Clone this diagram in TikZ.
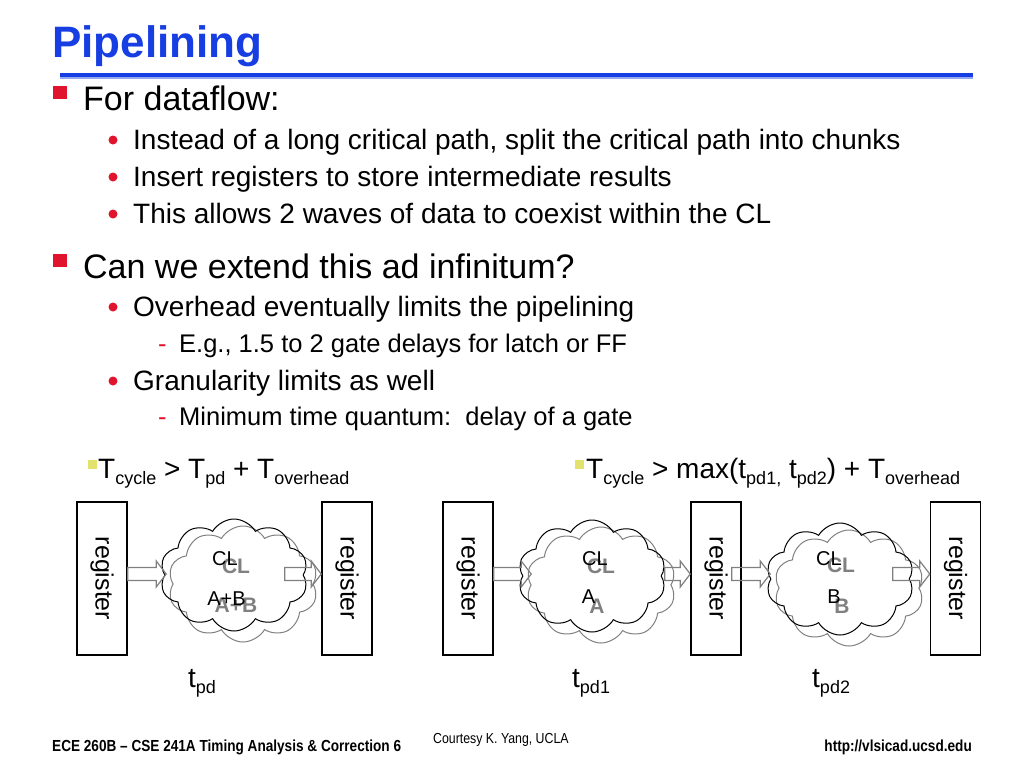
\documentclass[tikz,border=0pt]{standalone}
\usepackage{fontspec}
\usepackage{graphicx}
\setmainfont{Liberation Sans}
\newfontfamily\narrowfont[FakeStretch=0.85]{Liberation Sans}
\usetikzlibrary{shapes.symbols,calc}
\definecolor{titleblue}{RGB}{22,62,226}
\definecolor{bulletred}{RGB}{225,20,45}
\definecolor{pale}{RGB}{228,226,110}
\definecolor{shade}{RGB}{128,128,128}
\pgfmathsetmacro{\arrowy}{574}
\newcommand\lowtxt[1]{\raisebox{-0.22em}{\fontsize{18}{18}\selectfont #1}}
\newcommand\fatarrow[2]{%
  \draw[fat] let \p1=#1, \p2=#2 in
    (\x1,{(6.5-\arrowy)*1pt}) -- ({\x2-10pt},{(6.5-\arrowy)*1pt}) -- ({\x2-10pt},{(13-\arrowy)*1pt})
    -- (\x2,{-\arrowy*1pt}) -- ({\x2-10pt},{(-13-\arrowy)*1pt}) -- ({\x2-10pt},{(-6.5-\arrowy)*1pt})
    -- (\x1,{(-6.5-\arrowy)*1pt}) -- cycle;}
\tikzset{
  titletxt/.style={anchor=base west, inner sep=0, text=titleblue, font=\bfseries\fontsize{44}{50}\selectfont},
  lvl1/.style={anchor=base west, inner sep=0, font=\fontsize{34}{40}\selectfont},
  lvl2/.style={anchor=base west, inner sep=0, font=\fontsize{28}{34}\selectfont},
  lvl3/.style={anchor=base west, inner sep=0, font=\fontsize{25.5}{30}\selectfont},
  formula/.style={anchor=base west, inner sep=0, font=\fontsize{28}{34}\selectfont},
  foot/.style={anchor=base west, inner sep=0, font=\narrowfont\bfseries\fontsize{16}{18}\selectfont},
  credit/.style={anchor=base west, inner sep=0, font=\narrowfont\fontsize{14.5}{16}\selectfont},
  reg/.style={draw, line width=1.5pt, minimum width=50pt, minimum height=153pt, inner sep=0, font=\fontsize{25}{25}\selectfont},
  blob/.style={cloud, draw, line width=1pt, cloud puffs=10, cloud puff arc=120, cloud ignores aspect, minimum width=148pt, minimum height=112pt, inner sep=0},
  blobshade/.style={blob, draw=shade, minimum width=150pt, minimum height=116pt},
  fat/.style={draw=shade, line width=1.2pt},
  cltxt/.style={anchor=base, inner sep=0, font=\fontsize{20}{20}\selectfont},
  clshade/.style={anchor=base, inner sep=0, text=shade, font=\bfseries\fontsize{21}{21}\selectfont}
}
\begin{document}
\begin{tikzpicture}[x=1pt,y=-1pt]
            \fill[white] (0,0) rectangle (1024,768);
            \useasboundingbox (0,0) rectangle (1024,768);
            \node[titletxt] (title) at (52,58) {Pipelining};
            \draw[titleblue, line width=4pt] (60,75) -- (973,75);
            \draw[titleblue!45, line width=1.2pt] (60,78) -- (973,78);
            \foreach \b in {110,278}{
                \fill[bulletred] (53,{\b-24}) rectangle (67,{\b-11});
            }
            \foreach \b in {149,186,223,316,390}{
                \fill[bulletred] (113,{\b-9}) circle (4.5pt);
            }
            \foreach \b in {352,425}{
                \node[lvl3, text=bulletred] (dash\b) at (158,\b) {-};
            }
            \node[lvl1] (flow) at (83,110) {For dataflow:};
            \node[lvl2] (chunks) at (133,149) {Instead of a long critical path, split the critical path into chunks};
            \node[lvl2] (store) at (133,186) {Insert registers to store intermediate results};
            \node[lvl2] (waves) at (133,223) {This allows 2 waves of data to coexist within the CL};
            \node[lvl1] (extend) at (83,278) {Can we extend this ad infinitum?};
            \node[lvl2] (limits) at (133,316) {Overhead eventually limits the pipelining};
            \node[lvl3] (gates) at (179,352) {E.g., 1.5 to 2 gate delays for latch or FF};
            \node[lvl2] (grain) at (133,390) {Granularity limits as well};
            \node[lvl3] (quantum) at (179,425) {Minimum time quantum:\ \ delay of a gate};
            \fill[pale] (88,460) rectangle (97,469);
            \node[formula] (eqone) at (98,478) {T\lowtxt{cycle} > T\lowtxt{pd} + T\lowtxt{overhead}};
            \fill[pale] (575,460) rectangle (584,469);
            \node[formula] (eqtwo) at (586,478) {T\lowtxt{cycle} > max(t\lowtxt{pd1,} t\lowtxt{pd2}) + T\lowtxt{overhead}};
            \foreach \name/\x in {r1/102,r2/347,r3/468,r4/716,r5/955.5}{
                \node[reg] (\name) at (\x,578.5) {\rotatebox{-90}{register}};
            }
            \foreach \name/\x/\y in {c1/234/575,c2/592/576,c3/840/579}{
                \node[blobshade] (\name s) at ({\x+9},{\y+9}) {};
                \node[blob] (\name) at (\x,\y) {};
            }
            \fatarrow{(r1.east)}{($(c1.west)+(2,0)$)}
            \fatarrow{($(c1.east)+(-19,0)$)}{(r2.west)}
            \fatarrow{(r3.east)}{($(c2.west)+(9,0)$)}
            \fatarrow{($(c2.east)+(3,0)$)}{(r4.west)}
            \fatarrow{($(r4.east)+(-10,0)$)}{(c3.west)}
            \fatarrow{($(c3.east)+(-17,0)$)}{(r5.west)}
            \node[clshade] (cl1s) at (236,573) {CL};
            \node[cltxt] (cl1) at (225,565) {CL};
            \node[clshade] (op1s) at (236,612) {A+B};
            \node[cltxt] (op1) at (226.5,605) {A+B};
            \node[clshade] (cl2s) at (601,573) {CL};
            \node[cltxt] (cl2) at (595,565) {CL};
            \node[clshade] (op2s) at (597,613) {A};
            \node[cltxt] (op2) at (588.5,603) {A};
            \node[clshade] (cl3s) at (841,572) {CL};
            \node[cltxt] (cl3) at (829,565) {CL};
            \node[clshade] (op3s) at (842,613) {B};
            \node[cltxt] (op3) at (834,603) {B};
            \node[formula] (tpd) at (188,687) {t\lowtxt{pd}};
            \node[formula] (tpdone) at (572,687) {t\lowtxt{pd1}};
            \node[formula] (tpdtwo) at (812,687) {t\lowtxt{pd2}};
            \node[foot] (course) at (52,751) {ECE 260B – CSE 241A Timing Analysis \& Correction 6};
            \node[credit] (credit) at (433,743) {Courtesy K. Yang, UCLA};
            \node[foot, anchor=base east] (url) at (972,751) {http://vlsicad.ucsd.edu};
\end{tikzpicture}
\end{document}
